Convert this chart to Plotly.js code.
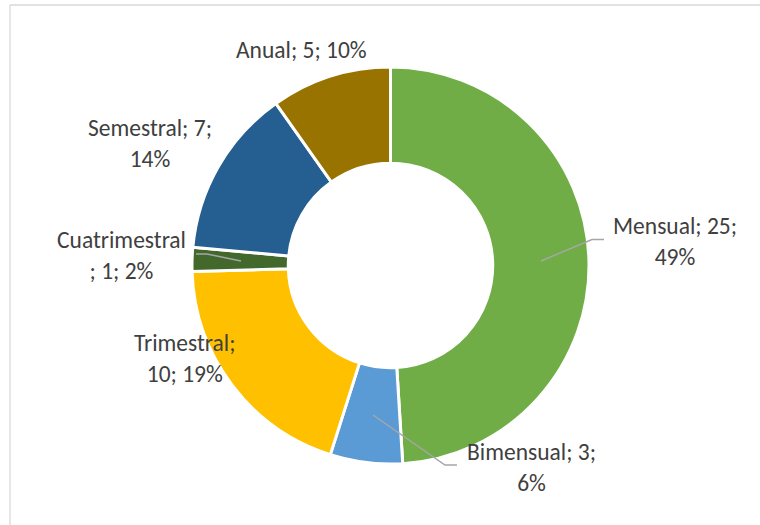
<!DOCTYPE html>
<html>
<head>
<meta charset="utf-8">
<script src="https://cdn.plot.ly/plotly-3.0.1.min.js"></script>
<style>
html,body{margin:0;padding:0;background:#fff;}
#chart{width:760px;height:525px;}
</style>
</head>
<body>
<div id="chart"></div>
<script>
// ---- data ----
var categories = ["Mensual", "Bimensual", "Trimestral", "Cuatrimestral", "Semestral", "Anual"];
var counts = [25, 3, 10, 1, 7, 5];
var percentLabels = ["49%", "6%", "19%", "2%", "14%", "10%"];
// label line-break layout (text split), mirrors the reference wrapping
var labelTexts = [
  "Mensual; 25;<br>49%",
  "Bimensual; 3;<br>6%",
  "Trimestral;<br>10; 19%",
  "Cuatrimestral<br>; 1; 2%",
  "Semestral; 7;<br>14%",
  "Anual; 5; 10%"
];
var colors = ["#70AD47", "#5B9BD5", "#FFC000", "#43682B", "#255E91", "#997300"];

// ---- layout helpers (pixel -> paper) ----
var W = 760, H = 525;
function px(x){ return x / W; }
function py(y){ return 1 - y / H; }

var labelPos = [[675, 241], [531, 467], [185, 358], [121, 255.5], [149.5, 143.5], [301, 50]];
var leaders = [
  [[541, 261], [592, 239.5], [604, 239.5]],
  [[373, 415], [445, 465], [457, 465]],
  [[196, 254], [207, 254], [241, 261]]
];

var cx = 390.5, cy = 265.5, R = 198.5;

var trace = {
  type: "pie",
  labels: categories,
  values: counts,
  customdata: percentLabels,
  hole: 0.515,
  sort: false,
  direction: "clockwise",
  rotation: 0,
  textinfo: "none",
  hoverinfo: "label+value+percent",
  marker: { colors: colors, line: { color: "#FFFFFF", width: 3 } },
  domain: { x: [px(cx - R), px(cx + R)], y: [py(cy + R), py(cy - R)] }
};

var annotations = labelTexts.map(function(t, i){
  return {
    text: t, xref: "paper", yref: "paper",
    x: px(labelPos[i][0]), y: py(labelPos[i][1]),
    xanchor: "center", yanchor: "middle", align: "center",
    showarrow: false,
    font: { family: "Carlito, Calibri, Lato, sans-serif", size: 23.5, color: "#404040" }
  };
});

var shapes = leaders.map(function(pts){
  var d = pts.map(function(p, k){ return (k ? "L" : "M") + px(p[0]) + "," + py(p[1]); }).join(" ");
  return { type: "path", xref: "paper", yref: "paper", path: d, line: { color: "#A6A6A6", width: 1.5 } };
});
// chart frame (left and top edges visible)
shapes.push({ type: "line", xref: "paper", yref: "paper", x0: px(10), x1: px(10), y0: py(5), y1: 0, line: { color: "#D9D9D9", width: 1.3 } });
shapes.push({ type: "line", xref: "paper", yref: "paper", x0: px(10), x1: 1, y0: py(5), y1: py(5), line: { color: "#D9D9D9", width: 1.3 } });

var layout = {
  width: W, height: H,
  margin: { l: 0, r: 0, t: 0, b: 0 },
  showlegend: false,
  paper_bgcolor: "#FFFFFF",
  annotations: annotations,
  shapes: shapes
};

Plotly.newPlot("chart", [trace], layout, { displayModeBar: false, staticPlot: true });
</script>
</body>
</html>
